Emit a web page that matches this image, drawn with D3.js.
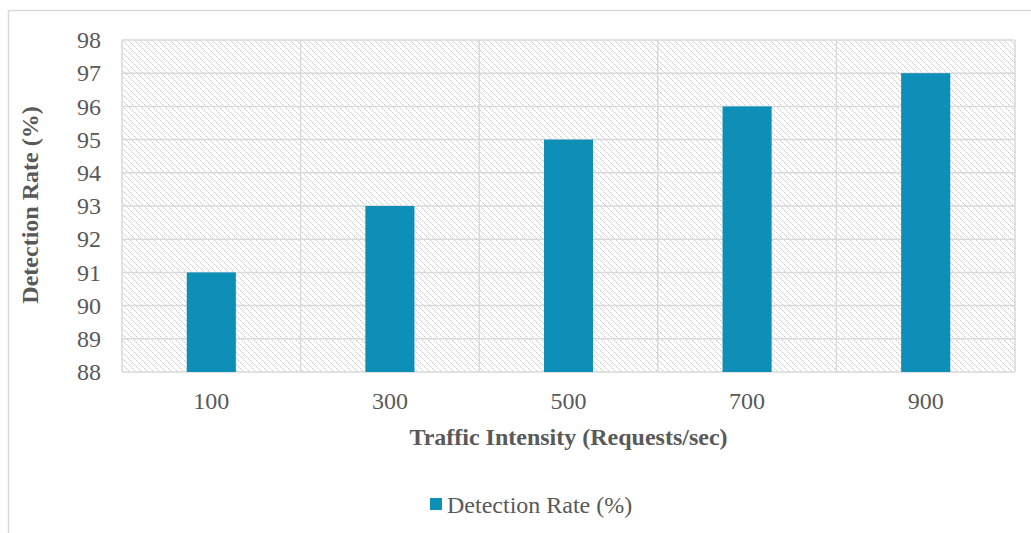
<!DOCTYPE html>
<html>
<head>
<meta charset="utf-8">
<script src="https://cdn.jsdelivr.net/npm/d3@7"></script>
<style>
  body { margin: 0; background: #fff; }
  text { font-family: "Liberation Serif", "Times New Roman", serif; fill: #595959; }
</style>
</head>
<body>
<div id="chart"></div>
<script>
const categories = ["100", "300", "500", "700", "900"];
const detectionRate = [91, 93, 95, 96, 97];
const yTicks = [88, 89, 90, 91, 92, 93, 94, 95, 96, 97, 98];
const seriesName = "Detection Rate (%)";

const W = 1031, H = 533;
const margin = { top: 40, right: 16, bottom: 161, left: 122 };
const width = W - margin.left - margin.right;
const height = H - margin.top - margin.bottom;

const svg = d3.select("#chart").append("svg")
  .attr("width", W)
  .attr("height", H);

// hatch fill for the plot background (dotted downward diagonals)
const defs = svg.append("defs");
const pat = defs.append("pattern")
  .attr("id", "hatch")
  .attr("patternUnits", "userSpaceOnUse")
  .attr("width", 6)
  .attr("height", 6);
pat.selectAll("rect")
  .data(d3.range(6))
  .enter().append("rect")
  .attr("x", d => d)
  .attr("y", d => d)
  .attr("width", 1)
  .attr("height", 1)
  .attr("shape-rendering", "crispEdges")
  .attr("fill", d => d % 2 === 0 ? "#c4c4c4" : "#e2e2e2");

// outer chart border
svg.append("path")
  .attr("d", `M8.5,${H} L8.5,10.5 L${W},10.5`)
  .attr("fill", "none")
  .attr("stroke", "#d9d9d9")
  .attr("stroke-width", 1.5);

const g = svg.append("g")
  .attr("transform", `translate(${margin.left},${margin.top})`);

const x = d3.scaleBand().domain(categories).range([0, width]).paddingInner(0).paddingOuter(0);
const y = d3.scaleLinear().domain([88, 98]).range([height, 0]);

g.append("rect")
  .attr("width", width)
  .attr("height", height)
  .attr("fill", "url(#hatch)");

// horizontal grid
g.selectAll(".hgrid")
  .data(yTicks)
  .enter().append("line")
  .attr("class", "hgrid")
  .attr("x1", 0).attr("x2", width)
  .attr("y1", d => y(d)).attr("y2", d => y(d))
  .attr("stroke", "#d9d9d9")
  .attr("stroke-width", 1.5);

// vertical grid at category boundaries
const bounds = categories.map(c => x(c)).concat([width]);
g.selectAll(".vgrid")
  .data(bounds)
  .enter().append("line")
  .attr("class", "vgrid")
  .attr("x1", d => d).attr("x2", d => d)
  .attr("y1", 0).attr("y2", height)
  .attr("stroke", "#d9d9d9")
  .attr("stroke-width", 1.5);

// bars
const barW = x.bandwidth() * 0.275;
g.selectAll(".bar")
  .data(detectionRate)
  .enter().append("rect")
  .attr("class", "bar")
  .attr("x", (d, i) => x(categories[i]) + x.bandwidth() / 2 - barW / 2)
  .attr("y", d => y(d))
  .attr("width", barW)
  .attr("height", d => height - y(d))
  .attr("fill", "#0e8fb8");

// y axis
const yAxis = g.append("g")
  .call(d3.axisLeft(y).tickValues(yTicks).tickSize(0).tickPadding(10));
yAxis.select(".domain").remove();
yAxis.selectAll("text")
  .attr("x", -21)
  .style("font-size", "24px")
  .style("font-family", "Liberation Serif, serif")
  .attr("fill", "#595959");

// x axis
const xAxis = g.append("g")
  .attr("transform", `translate(0,${height})`)
  .call(d3.axisBottom(x).tickSize(0).tickPadding(20));
xAxis.select(".domain").remove();
xAxis.selectAll("text")
  .style("font-size", "24px")
  .style("font-family", "Liberation Serif, serif")
  .attr("fill", "#595959");

// axis titles
g.append("text")
  .attr("x", width / 2)
  .attr("y", height + 73)
  .attr("text-anchor", "middle")
  .style("font-size", "24px")
  .style("font-weight", "bold")
  .text("Traffic Intensity (Requests/sec)");

g.append("text")
  .attr("transform", "rotate(-90)")
  .attr("x", -(205 - margin.top))
  .attr("y", -margin.left + 38)
  .attr("text-anchor", "middle")
  .style("font-size", "24px")
  .style("font-weight", "bold")
  .text("Detection Rate (%)");

// legend
const legend = svg.append("g").attr("transform", "translate(430,498)");
legend.append("rect")
  .attr("width", 12).attr("height", 12)
  .attr("fill", "#0e8fb8");
legend.append("text")
  .attr("x", 17)
  .attr("y", 7)
  .attr("dy", "0.35em")
  .style("font-size", "24px")
  .text(seriesName);
</script>
</body>
</html>
